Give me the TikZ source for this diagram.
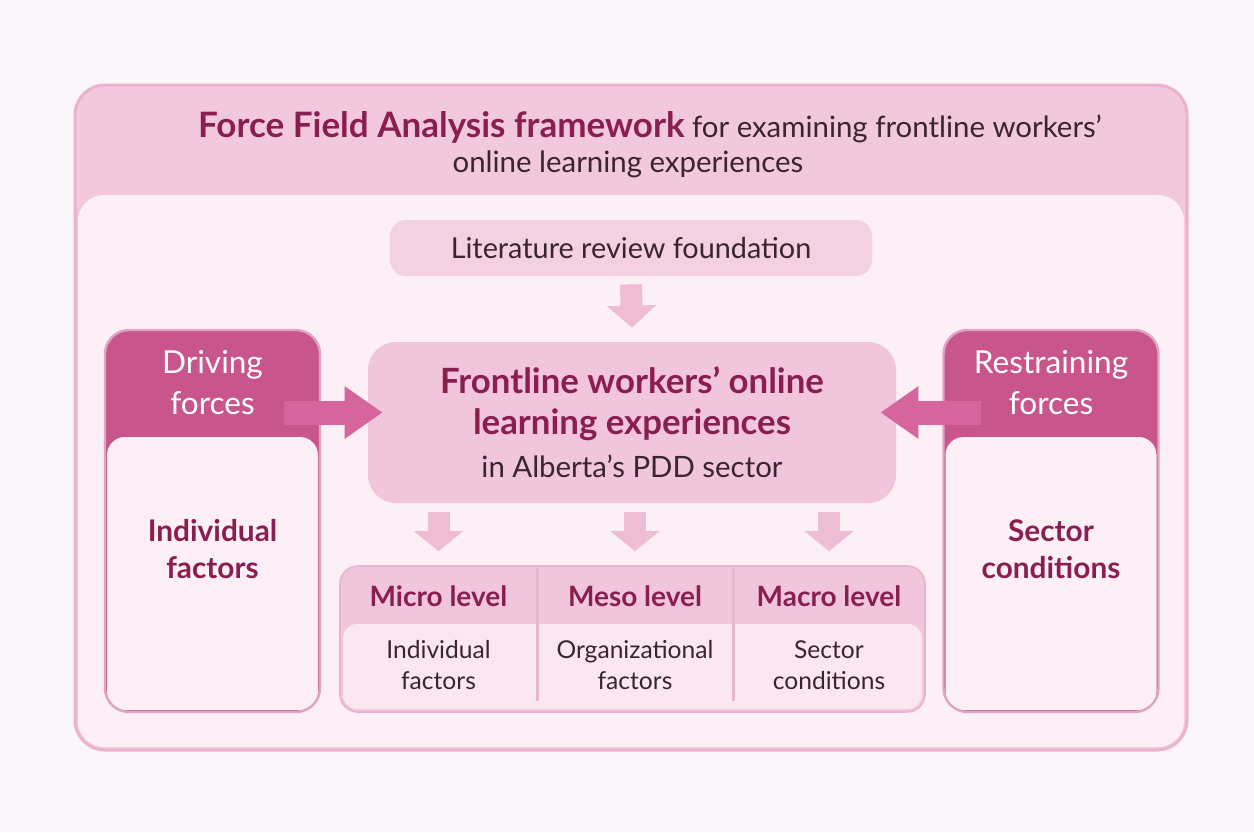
\documentclass[tikz,border=0pt]{standalone}
\usepackage{fontspec}
\setmainfont{Lato}
\usetikzlibrary{arrows.meta,positioning}

\definecolor{pagebg}{HTML}{FBF6F9}
\definecolor{rim}{HTML}{EBB2CE}
\definecolor{headpink}{HTML}{F2C8DC}
\definecolor{bodypink}{HTML}{FCEFF5}
\definecolor{boxpink}{HTML}{F3D0E2}
\definecolor{corepink}{HTML}{F1C5DB}
\definecolor{arrowpink}{HTML}{EEBCD5}
\definecolor{forcehead}{HTML}{C9558D}
\definecolor{forcearrow}{HTML}{D6659D}
\definecolor{forcerim}{HTML}{E0A4C3}
\definecolor{plum}{HTML}{8A1E50}
\definecolor{ink}{HTML}{3A2430}

\begin{document}
\begin{tikzpicture}[x=0.5pt, y=-0.5pt,
    text=ink,
    frame/.style = {rounded corners=15pt, fill=headpink, draw=rim,
                    line width=1.5pt, minimum width=556pt, minimum height=332.5pt},
     pane/.style = {rounded corners=12pt, fill=bodypink, inner sep=0pt,
                    minimum width=#1},
  litbox/.style = {rounded corners=8pt, fill=boxpink,
                   minimum width=241pt, minimum height=28pt,
                   font=\fontsize{14.4}{16}\selectfont},
    core/.style = {rounded corners=14pt, fill=corepink, align=center,
                   minimum width=264pt, minimum height=80.5pt, text=plum,
                   font=\bfseries\fontsize{17.4}{20.5}\selectfont},
   force/.style = {rounded corners=12pt, minimum width=107.5pt,
                   minimum height=191pt}, % outer shape of a force column
   fhead/.style = {text=white, align=center,
                   font=\fontsize{15.8}{20.5}\selectfont},
   fbody/.style = {text=plum, align=center,
                   font=\bfseries\fontsize{14.9}{18.5}\selectfont},
  levels/.style = {rounded corners=9pt, fill=corepink, draw=rim, line width=0.8pt,
                   minimum width=292.5pt, minimum height=73pt},
   lhead/.style = {text=plum, font=\bfseries\fontsize{14}{16}\selectfont},
   lbody/.style = {align=center, font=\fontsize{12.3}{15.5}\selectfont},
    down/.style = {draw=arrowpink, line width=11pt,
                   -{Triangle[width=24pt, length=11pt]}},
    push/.style = {draw=forcearrow, line width=12pt,
                   -{Triangle[width=25pt, length=19pt]}},
                    ]
\useasboundingbox[fill=pagebg] (0,0) rectangle (1254,832);

% outer frame with its title band
\node[frame] (frame) at (631,417.5) {};
\node[pane=553pt, minimum height=276pt, rounded corners=13pt] (inner) at (631,471) {};
\node[font=\fontsize{14.7}{17}\selectfont, anchor=base] (title) at (650,137)
    {\textcolor{plum}{\bfseries\fontsize{17.5}{17}\selectfont Force Field Analysis framework} for examining frontline workers’};
\node[font=\fontsize{14.7}{17}\selectfont, anchor=base] (title-2) at (628,172)
    {online learning experiences};

% middle column
\node[litbox] (lit) at (631,248) {Literature review foundation};
\node[core] (core) at (632,422.5)
    {Frontline workers’ online\\
     learning experiences\\[1pt]
     \color{ink}\mdseries\fontsize{14.7}{15}\selectfont in Alberta’s PDD sector};
\draw[down] ([yshift=-4pt]lit.south) -- ([yshift=7pt]core.north);

% driving forces (left) and restraining forces (right)
\foreach \nm/\x/\hd/\bd in {drv/212.5/Driving\\forces/Individual\\factors,
                            rst/1051/Restraining\\forces/Sector\\conditions}{
  \node[force, fill=forcehead] (\nm) at (\x,521) {};
  \node[pane=105.5pt, minimum height=136.5pt, rounded corners=9pt] (\nm-body) at (\x,573.5) {};
  \node[force, draw=forcerim, line width=1.2pt] at (\nm) {};
  \node[fhead] (\nm-head) at (\x,383) {\hd};
  \node[fbody] (\nm-text) at (\x,549) {\bd};
}
\coordinate (drv-from) at ([xshift=-18pt, yshift=5pt]drv.east |- core.west);
\coordinate (rst-from) at ([xshift=19pt, yshift=5pt]rst.west |- core.west);
\draw[push] (drv-from) -- ([xshift=7.5pt, yshift=5pt]core.west);
\draw[push] (rst-from) -- ([xshift=-8pt, yshift=5pt]core.east);

% three levels of analysis
\node[levels] (lvl) at (632.5,639) {};
\node[pane=289.5pt, minimum height=42.5pt, rounded corners=7pt, fill=bodypink!80!corepink] (lvl-body) at (632.5,666.5) {};
\draw[forcerim!80, line width=1.5pt] (537,568) -- (537,701)
                                     (733,568) -- (733,701);
\foreach \x/\lv/\fc [count=\i] in {438.5/Micro level/Individual\\factors,
                                   635/Meso level/Organizational\\factors,
                                   829/Macro level/Sector\\conditions}{
  \node[lhead] (lvl-\i) at (\x,596) {\lv};
  \node[lbody] (fac-\i) at (\x,665.5) {\fc};
  \draw[down, -{Triangle[width=24pt, length=10pt]}]
       ([yshift=-4.5pt]core.south -| lvl-\i) -- ([yshift=7pt]lvl.north -| lvl-\i);
}
\end{tikzpicture}
\end{document}
